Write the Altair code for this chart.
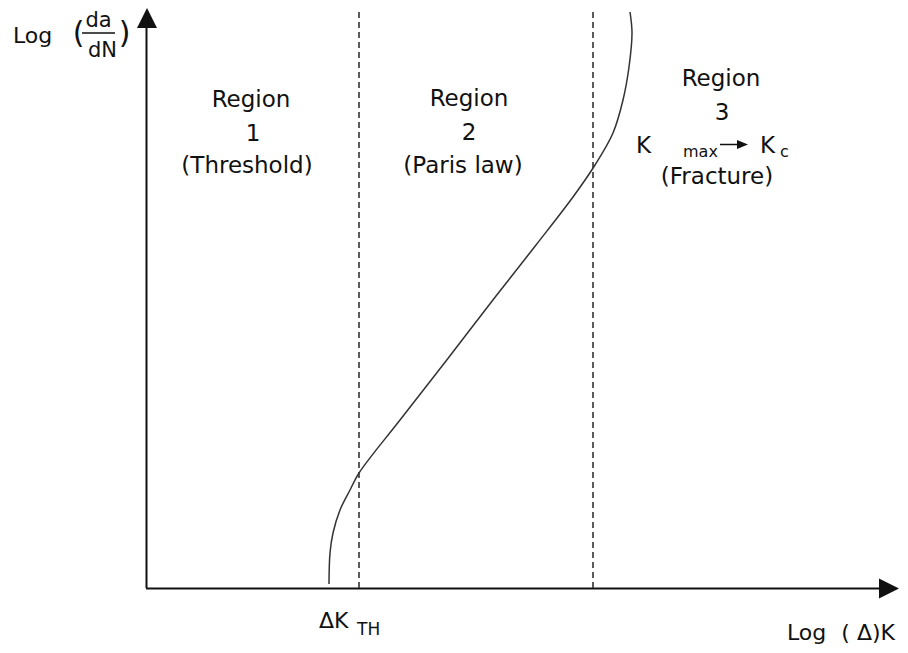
import altair as alt
import pandas as pd

# ---- data (chart units: origin at the axes crossing) ----
curve_u = [183, 184, 187, 194, 204, 213, 254, 300, 350, 390, 427, 449, 467, 477, 483, 486, 484]
curve_v = [4, 35, 55, 78, 98, 115, 168, 227, 292, 343, 391, 423, 455, 488, 521, 555, 576]

boundary_u = [213, 447]          # Region 1/2 and 2/3 boundaries
boundary_top = 576

axis_x_end = 735
axis_y_end = 562

region_texts = ["Region", "1", "(Threshold)", "Region", "2", "(Paris law)", "Region", "3", "(Fracture)"]
region_u = [105, 107, 101, 323, 323, 317, 575, 576, 571]
region_v = [481, 447, 415, 482, 448, 415, 502, 468, 404]

left_texts = ["K", "K", "ΔK", "Log", "Log"]
left_u = [490, 614, 173, 641, -133]
left_v = [435, 435, -40, -52, 545]
left_size = [23, 23, 22, 22, 22]

sub_texts = ["max", "c", "TH"]
sub_u = [537, 634, 211]
sub_v = [431, 431, -47]
sub_size = [16, 16, 17]

center_small = ["da", "dN", "(", ")"]
cs_u = [-47.5, -43.5, -67.5, -21.5]
cs_v = [561, 531, 545, 545]
cs_size = [21, 21, 30, 30]

xd = alt.Scale(domain=[-138, 754], nice=False, zero=False)
yd = alt.Scale(domain=[-57, 580], nice=False, zero=False)
INK = "#111111"

# axes lines
axes_df = pd.DataFrame({"u": [0.5, 0], "v": [0, -0.5], "u2": [0.5, axis_x_end], "v2": [axis_y_end, -0.5]})
axes = alt.Chart(axes_df).mark_rule(color=INK, strokeWidth=2).encode(
    x=alt.X("u:Q", scale=xd, axis=None), y=alt.Y("v:Q", scale=yd, axis=None),
    x2="u2:Q", y2="v2:Q")

heads_up = alt.Chart(pd.DataFrame({"u": [1], "v": [570]})).mark_point(
    shape="M0,-1L1,1L-1,1Z", filled=True, size=400, color=INK, opacity=1).encode(
    x=alt.X("u:Q", scale=xd, axis=None), y=alt.Y("v:Q", scale=yd, axis=None))
heads_right = alt.Chart(pd.DataFrame({"u": [743], "v": [-0.5]})).mark_point(
    shape="M1,0L-1,-1L-1,1Z", filled=True, size=400, color=INK, opacity=1).encode(
    x=alt.X("u:Q", scale=xd, axis=None), y=alt.Y("v:Q", scale=yd, axis=None))

# dashed boundaries
bnd_df = pd.DataFrame({"u": boundary_u, "v": [0, 0], "v2": [boundary_top, boundary_top]})
bounds = alt.Chart(bnd_df).mark_rule(color="#333333", strokeWidth=1.6, strokeDash=[6, 4]).encode(
    x=alt.X("u:Q", scale=xd, axis=None), y=alt.Y("v:Q", scale=yd, axis=None), y2="v2:Q")

# crack growth curve
curve_df = pd.DataFrame({"u": curve_u, "v": curve_v, "i": range(len(curve_u))})
curve = alt.Chart(curve_df).mark_line(color="#333333", strokeWidth=1.5, interpolate="catmull-rom").encode(
    x=alt.X("u:Q", scale=xd, axis=None), y=alt.Y("v:Q", scale=yd, axis=None), order="i:Q")

# fraction bar and the small arrow K_max -> K_c
small_rules = pd.DataFrame({"u": [-64, 574], "v": [555, 443.5], "u2": [-31, 594], "v2": [555, 443.5]})
srules = alt.Chart(small_rules).mark_rule(color=INK, strokeWidth=1.5).encode(
    x=alt.X("u:Q", scale=xd, axis=None), y=alt.Y("v:Q", scale=yd, axis=None), x2="u2:Q", y2="v2:Q")
small_head = alt.Chart(pd.DataFrame({"u": [596.5], "v": [443.5]})).mark_point(
    shape="M1,0L-1,-0.8L-1,0.8Z", filled=True, size=121, color=INK, opacity=1).encode(
    x=alt.X("u:Q", scale=xd, axis=None), y=alt.Y("v:Q", scale=yd, axis=None))

FONT = "DejaVu Sans"

reg_df = pd.DataFrame({"t": region_texts, "u": region_u, "v": region_v})
reg = alt.Chart(reg_df).mark_text(font=FONT, fontSize=23, align="center", baseline="alphabetic", color=INK).encode(
    x=alt.X("u:Q", scale=xd, axis=None), y=alt.Y("v:Q", scale=yd, axis=None), text="t:N")

lt_df = pd.DataFrame({"t": left_texts, "u": left_u, "v": left_v, "s": left_size})
lt = alt.Chart(lt_df).mark_text(font=FONT, align="left", baseline="alphabetic", color=INK).encode(
    x=alt.X("u:Q", scale=xd, axis=None), y=alt.Y("v:Q", scale=yd, axis=None), text="t:N",
    size=alt.Size("s:Q", scale=None, legend=None))

sub_df = pd.DataFrame({"t": sub_texts, "u": sub_u, "v": sub_v, "s": sub_size})
sub = alt.Chart(sub_df).mark_text(font=FONT, align="left", baseline="alphabetic", color=INK).encode(
    x=alt.X("u:Q", scale=xd, axis=None), y=alt.Y("v:Q", scale=yd, axis=None), text="t:N",
    size=alt.Size("s:Q", scale=None, legend=None))

cs_df = pd.DataFrame({"t": center_small, "u": cs_u, "v": cs_v, "s": cs_size})
cs = alt.Chart(cs_df).mark_text(font=FONT, align="center", baseline="alphabetic", color=INK).encode(
    x=alt.X("u:Q", scale=xd, axis=None), y=alt.Y("v:Q", scale=yd, axis=None), text="t:N",
    size=alt.Size("s:Q", scale=None, legend=None))

xlab = alt.Chart(pd.DataFrame({"t": ["( Δ)K"], "u": [749], "v": [-52]})).mark_text(
    font=FONT, fontSize=22, align="right", baseline="alphabetic", color=INK).encode(
    x=alt.X("u:Q", scale=xd, axis=None), y=alt.Y("v:Q", scale=yd, axis=None), text="t:N")

chart = alt.layer(axes, heads_up, heads_right, bounds, curve, srules, small_head,
                  reg, lt, sub, cs, xlab).properties(
    width=892, height=637, padding=0,
    autosize=alt.AutoSizeParams(type="none"),
    background="white",
).configure_view(stroke=None)

chart.save("out.html", embed_options={"renderer": "svg", "actions": False})
